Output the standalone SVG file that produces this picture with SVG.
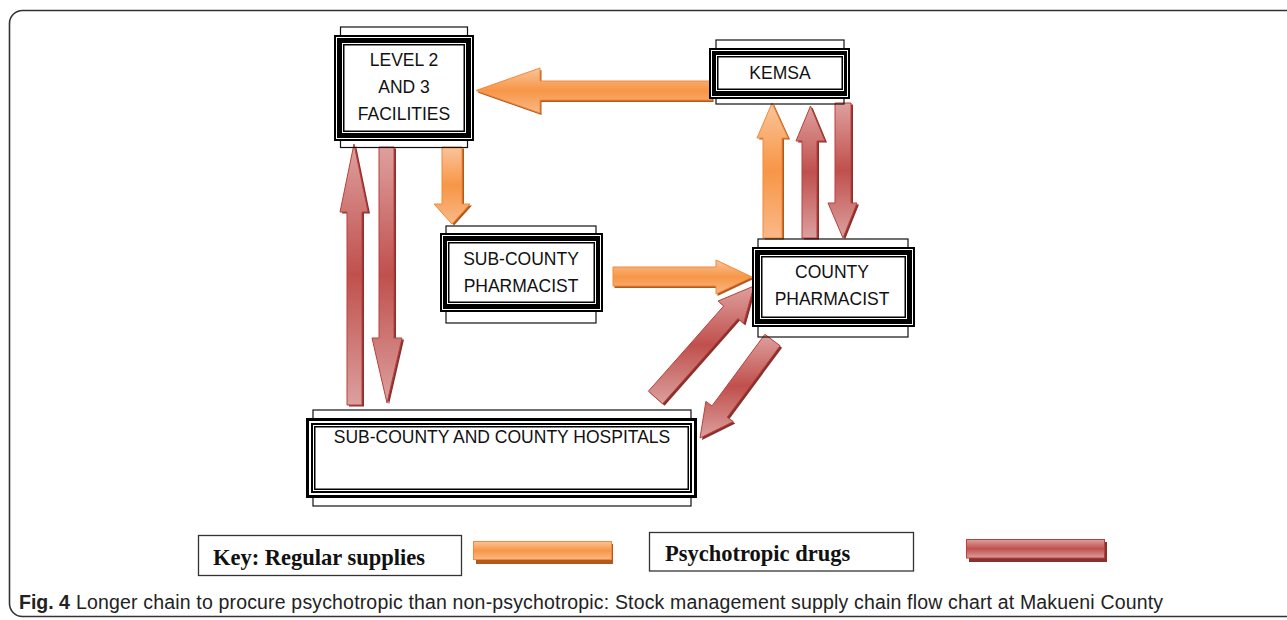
<svg xmlns="http://www.w3.org/2000/svg" width="1287" height="620" viewBox="0 0 1287 620">
<defs>
<linearGradient id="go" x1="0" y1="0" x2="0" y2="1">
<stop offset="0" stop-color="#fac49a"/>
<stop offset="0.5" stop-color="#f79646"/>
<stop offset="1" stop-color="#fab888"/>
</linearGradient>
<linearGradient id="gr" x1="0" y1="0" x2="0" y2="1">
<stop offset="0" stop-color="#dea09e"/>
<stop offset="0.5" stop-color="#c0504d"/>
<stop offset="1" stop-color="#dba09e"/>
</linearGradient>
<style>
.frame{fill:none;stroke:#333;stroke-width:1.6}
.thin{fill:none;stroke:#111;stroke-width:1.2}
.outer{fill:#000}
.wline{fill:none;stroke:#fff;stroke-width:1}
.inner{fill:#fff}
.bline{fill:none;stroke:#000;stroke-width:1.5}
.lbl{font-family:"Liberation Sans",Arial,sans-serif;font-size:17.5px;fill:#111;text-anchor:middle}
.key{font-family:"Liberation Serif","Times New Roman",serif;font-size:22.5px;font-weight:bold;fill:#111}
.keybox{fill:#fff;stroke:#333;stroke-width:1.3}
.ao{fill:url(#go);stroke:#ee8a3c;stroke-width:1}
.aos{fill:#b4581c}
.ar{fill:url(#gr);stroke:#b8413e;stroke-width:1}
.ars{fill:#8a302d}
.cap{font-family:"Liberation Sans",Arial,sans-serif;font-size:19.5px;fill:#222}
</style>
</defs>
<rect class="frame" x="9.5" y="10.5" width="1320" height="606" rx="13"/>

<g id="connectors">
<!-- KEMSA -> LEVEL 2 (orange) -->
<g transform="translate(1.5,2)"><polygon class="aos" points="712,81 540,81 540,68 476,90.5 540,113 540,100 712,100"/></g>
<polygon class="ao" points="712,81 540,81 540,68 476,90.5 540,113 540,100 712,100"/>
<!-- LEVEL 2 -> SUB-COUNTY (orange) -->
<g transform="translate(2,1.5)"><polygon class="aos" points="442,147 462,147 462,204 470,204 452,224 434,204 442,204"/></g>
<polygon class="ao" points="442,147 462,147 462,204 470,204 452,224 434,204 442,204"/>
<!-- SUB-COUNTY -> COUNTY (orange) -->
<g transform="translate(1.5,2)"><polygon class="aos" points="613,267 716,267 716,260 752,277 716,294 716,286 613,286"/></g>
<polygon class="ao" points="613,267 716,267 716,260 752,277 716,294 716,286 613,286"/>
<!-- COUNTY -> KEMSA (orange) -->
<g transform="translate(2,1.5)"><polygon class="aos" points="763,238 763,138 757,138 772,103 788,138 782,138 782,238"/></g>
<polygon class="ao" points="763,238 763,138 757,138 772,103 788,138 782,138 782,238"/>
<!-- COUNTY -> KEMSA (red) -->
<g transform="translate(2,1.5)"><polygon class="ars" points="802,238 802,141 796,141 810.5,106 825,141 817,141 817,238"/></g>
<polygon class="ar" points="802,238 802,141 796,141 810.5,106 825,141 817,141 817,238"/>
<!-- KEMSA -> COUNTY (red) -->
<g transform="translate(2,1.5)"><polygon class="ars" points="835,103 851,103 851,203 857,203 843,238 828,203 835,203"/></g>
<polygon class="ar" points="835,103 851,103 851,203 857,203 843,238 828,203 835,203"/>
<!-- HOSPITALS -> LEVEL 2 (red) -->
<g transform="translate(2,1.5)"><polygon class="ars" points="347,405 347,212 340,212 354,144 368,212 362,212 362,405"/></g>
<polygon class="ar" points="347,405 347,212 340,212 354,144 368,212 362,212 362,405"/>
<!-- LEVEL 2 -> HOSPITALS (red) -->
<g transform="translate(2,1.5)"><polygon class="ars" points="379,147 394,147 394,338 402,338 387,403 372,338 379,338"/></g>
<polygon class="ar" points="379,147 394,147 394,338 402,338 387,403 372,338 379,338"/>
<!-- HOSPITALS -> COUNTY (red diagonal) -->
<g transform="translate(2,2)"><polygon class="ars" points="648.4,391.2 723.7,306 718.1,301 754,286 743.5,323.6 737.9,318.6 662.6,403.8"/></g>
<polygon class="ar" points="648.4,391.2 723.7,306 718.1,301 754,286 743.5,323.6 737.9,318.6 662.6,403.8"/>
<!-- COUNTY -> HOSPITALS (red diagonal) -->
<g transform="translate(2,2)"><polygon class="ars" points="764.9,334.3 712,405.9 705.9,401.4 700,438 733.3,421.6 727.2,417.2 780.1,345.7"/></g>
<polygon class="ar" points="764.9,334.3 712,405.9 705.9,401.4 700,438 733.3,421.6 727.2,417.2 780.1,345.7"/>
</g>

<g id="level23">
<rect class="thin" x="340.5" y="27" width="127" height="120.5"/>
<rect class="outer" x="334" y="35" width="140" height="106"/>
<rect class="wline" x="336.5" y="37.5" width="135" height="101"/>
<rect class="inner" x="342" y="43" width="124" height="90"/>
<rect class="bline" x="343.75" y="44.75" width="120.5" height="86.5"/>
<text class="lbl" x="404" y="66">LEVEL 2</text>
<text class="lbl" x="404" y="93">AND 3</text>
<text class="lbl" x="404" y="120">FACILITIES</text>
</g>

<g id="kemsa">
<rect class="thin" x="716" y="40" width="128" height="64"/>
<rect class="outer" x="709" y="48" width="141" height="51"/>
<rect class="wline" x="711.5" y="50.5" width="136" height="46"/>
<rect class="inner" x="716" y="55" width="128" height="36"/>
<rect class="bline" x="717.75" y="56.75" width="124.5" height="32.5"/>
<text class="lbl" x="780" y="79">KEMSA</text>
</g>

<g id="subcounty">
<rect class="thin" x="446" y="226" width="150" height="97"/>
<rect class="outer" x="440" y="233" width="163" height="79"/>
<rect class="wline" x="442.5" y="235.5" width="158" height="74"/>
<rect class="inner" x="447" y="241" width="149" height="63"/>
<rect class="bline" x="448.75" y="242.75" width="145.5" height="59.5"/>
<text class="lbl" x="521" y="265">SUB-COUNTY</text>
<text class="lbl" x="521" y="292">PHARMACIST</text>
</g>

<g id="county">
<rect class="thin" x="758" y="239" width="150" height="98"/>
<rect class="outer" x="752" y="247" width="163" height="80"/>
<rect class="wline" x="754.5" y="249.5" width="158" height="75"/>
<rect class="inner" x="760" y="255" width="147" height="64"/>
<rect class="bline" x="761.75" y="256.75" width="143.5" height="60.5"/>
<text class="lbl" x="832" y="278">COUNTY</text>
<text class="lbl" x="832" y="305">PHARMACIST</text>
</g>

<g id="hospitals">
<rect class="thin" x="313" y="410" width="378" height="96"/>
<rect class="outer" x="306" y="418" width="391" height="80"/>
<rect fill="none" stroke="#fff" stroke-width="2" x="310" y="422" width="383" height="72"/>
<rect class="inner" x="313" y="425" width="377" height="66"/>
<rect class="bline" x="314.75" y="426.75" width="373.5" height="62.5"/>
<text class="lbl" x="502" y="443">SUB-COUNTY AND COUNTY HOSPITALS</text>
</g>

<g id="legend">
<rect class="keybox" x="198.5" y="535.5" width="263" height="40"/>
<text class="key" x="213" y="565">Key: Regular supplies</text>
<rect class="aos" x="476" y="544" width="137" height="20"/>
<rect class="ao" x="473.5" y="541.5" width="138" height="18"/>
<rect class="keybox" x="649.5" y="532.5" width="264" height="38.5"/>
<text class="key" x="665" y="561">Psychotropic drugs</text>
<rect class="ars" x="969" y="542" width="138" height="20"/>
<rect class="ar" x="966.5" y="539.5" width="138" height="18.5"/>
</g>

<text class="cap" x="19" y="609" font-weight="bold">Fig. 4</text>
<text class="cap" x="76" y="609" textLength="1087" lengthAdjust="spacing">Longer chain to procure psychotropic than non-psychotropic: Stock management supply chain flow chart at Makueni County</text>
</svg>
